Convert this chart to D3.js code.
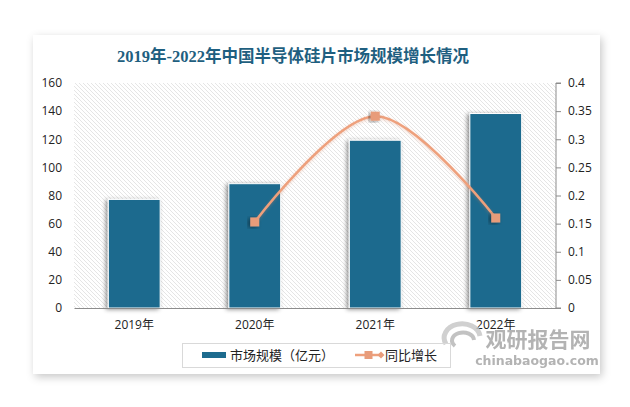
<!DOCTYPE html>
<html><head><meta charset="utf-8">
<script src="https://cdn.jsdelivr.net/npm/d3@7"></script>
<style>html,body{margin:0;padding:0;background:#fff;}svg{display:block;}</style>
</head><body>
<svg id="c" width="630" height="407"></svg>
<script>
const categories = ["2019年", "2020年", "2021年", "2022年"];
const marketSize = [77.2, 88.4, 119.3, 138.3];
const growth = [null, 0.153, 0.341, 0.16];
const leftTicks = [0, 20, 40, 60, 80, 100, 120, 140, 160];
const rightTicks = [0, 0.05, 0.1, 0.15, 0.2, 0.25, 0.3, 0.35, 0.4];
const titleText = "2019年-2022年中国半导体硅片市场规模增长情况";
const legendBar = "市场规模（亿元）";
const legendLine = "同比增长";

const svg = d3.select("#c");
const defs = svg.append("defs");

const cardF = defs.append("filter").attr("id","cardShadow").attr("x","-10%").attr("y","-10%").attr("width","120%").attr("height","125%");
cardF.append("feDropShadow").attr("dx",2).attr("dy",3).attr("stdDeviation",4).attr("flood-color","#000").attr("flood-opacity",0.22);

const barF = defs.append("filter").attr("id","barShadow").attr("x","-30%").attr("y","-10%").attr("width","160%").attr("height","130%");
barF.append("feDropShadow").attr("dx",-2).attr("dy",1).attr("stdDeviation",2).attr("flood-color","#000").attr("flood-opacity",0.45);

const lineF = defs.append("filter").attr("id","lineShadow").attr("x","-10%").attr("y","-20%").attr("width","120%").attr("height","140%");
lineF.append("feDropShadow").attr("dx",0).attr("dy",1).attr("stdDeviation",1.5).attr("flood-color","#e07a50").attr("flood-opacity",0.35);

const pat = defs.append("pattern").attr("id","hatch").attr("patternUnits","userSpaceOnUse").attr("width",4).attr("height",4);
pat.append("rect").attr("width",4).attr("height",4).attr("fill","#fff");
pat.append("path").attr("d","M-1,-1 L5,5 M-1,3 L1,5 M3,-1 L5,1").attr("stroke","#dedede").attr("stroke-width",0.8);

// card
svg.append("rect").attr("x",33).attr("y",35).attr("width",567).attr("height",339).attr("fill","#fff").attr("filter","url(#cardShadow)");

// title
svg.append("text").attr("x",293).attr("y",62).attr("text-anchor","middle")
  .attr("font-family","'Liberation Serif','Noto Sans CJK SC',serif").attr("font-weight","bold")
  .attr("font-size",16.5).attr("fill","#1f5f80").text(titleText);

const L = 74, R = 556, T = 83, B = 308;
const x = d3.scaleBand().domain(categories).range([L, R]).paddingInner(0.57).paddingOuter(0.285);
const yL = d3.scaleLinear().domain([0, 160]).range([B, T]);
const yR = d3.scaleLinear().domain([0, 0.4]).range([B, T]);

// plot area hatch
svg.append("rect").attr("x",L).attr("y",T).attr("width",R-L).attr("height",B-T).attr("fill","url(#hatch)");

// left axis
const axL = svg.append("g").attr("transform",`translate(${L-12},0)`)
  .call(d3.axisLeft(yL).tickValues(leftTicks).tickSize(0).tickPadding(0));
axL.select(".domain").remove();
axL.selectAll("text").attr("font-family","'Open Sans','Noto Sans CJK SC',sans-serif").attr("font-size",12).attr("fill","#222");

// right axis
const axR = svg.append("g").attr("transform",`translate(${R},0)`)
  .call(d3.axisRight(yR).tickValues(rightTicks).tickSize(5).tickPadding(7).tickFormat(d3.format("~g")));
axR.select(".domain").attr("stroke","#8c8c8c").attr("d",`M5,${T}H0V${B}H5`);
axR.selectAll("line").attr("stroke","#8c8c8c");
axR.selectAll("text").attr("font-family","'Open Sans','Noto Sans CJK SC',sans-serif").attr("font-size",12).attr("fill","#222");

// bars
svg.append("g").selectAll("rect").data(marketSize).join("rect")
  .attr("x",(d,i)=>x(categories[i])).attr("y",d=>yL(d))
  .attr("width",x.bandwidth()).attr("height",d=>B-yL(d))
  .attr("fill","#1d6b8e").attr("stroke","#fff").attr("stroke-width",1)
  .attr("filter","url(#barShadow)");

// bottom axis
const axB = svg.append("g").attr("transform",`translate(0,${B})`)
  .call(d3.axisBottom(x).tickSize(0).tickPadding(12));
axB.select(".domain").attr("stroke","#8c8c8c").attr("stroke-width",1.2);
axB.selectAll("text").attr("font-family","'Open Sans','Noto Sans CJK SC',sans-serif").attr("font-size",12).attr("fill","#222");

// line
const pts = growth.map((g,i)=>({g, c:categories[i]})).filter(p=>p.g!==null);
const line = d3.line().x(p=>x(p.c)+x.bandwidth()/2).y(p=>yR(p.g)).curve(d3.curveCardinal.tension(0));
svg.append("path").datum(pts).attr("d",line).attr("fill","none")
  .attr("stroke","#eea07c").attr("stroke-width",2.5).attr("filter","url(#lineShadow)");
svg.append("g").selectAll("rect").data(pts).join("rect")
  .attr("x",p=>x(p.c)+x.bandwidth()/2-4.5).attr("y",p=>yR(p.g)-4.5)
  .attr("width",9).attr("height",9).attr("fill","#e89c7a").attr("filter","url(#barShadow)");

// watermark
const wm = svg.append("g").attr("opacity",0.85);
wm.append("path").attr("d","M446,344 A18,14 0 1 1 480,336").attr("fill","none").attr("stroke","#c8c8c8").attr("stroke-width",5);
wm.append("path").attr("d","M455,346 A11,8 0 1 1 474,340").attr("fill","none").attr("stroke","#b8b8b8").attr("stroke-width",4);
wm.append("text").attr("x",538).attr("y",347).attr("text-anchor","middle")
  .attr("font-family","'Noto Sans CJK SC',sans-serif").attr("font-weight","bold").attr("font-size",21)
  .attr("fill","#a6a6a6").text("观研报告网");
wm.append("text").attr("x",537).attr("y",365).attr("text-anchor","middle")
  .attr("font-family","'DejaVu Sans',sans-serif").attr("font-weight","bold").attr("font-size",12.5)
  .attr("fill","#a6a6a6").text("chinabaogao.com");

// legend
const lg = svg.append("g");
lg.append("rect").attr("x",182.5).attr("y",343.5).attr("width",268).attr("height",24).attr("fill","none").attr("stroke","#d9d9d9");
lg.append("rect").attr("x",202).attr("y",352).attr("width",24).attr("height",6).attr("fill","#1d6b8e");
lg.append("text").attr("x",230).attr("y",360).attr("font-family","'Noto Sans CJK SC',sans-serif").attr("font-size",13).attr("fill","#222").text(legendBar);
lg.append("line").attr("x1",355).attr("x2",382).attr("y1",355).attr("y2",355).attr("stroke","#eea07c").attr("stroke-width",2.5);
lg.append("rect").attr("x",364.5).attr("y",351).attr("width",8).attr("height",8).attr("fill","#e89c7a");
lg.append("path").attr("d","M381,351.5 L384.5,355 L381,358.5 L377.5,355 Z").attr("fill","#e89c7a");
lg.append("text").attr("x",385).attr("y",360).attr("font-family","'Noto Sans CJK SC',sans-serif").attr("font-size",13).attr("fill","#222").text(legendLine);
</script>
</body></html>
